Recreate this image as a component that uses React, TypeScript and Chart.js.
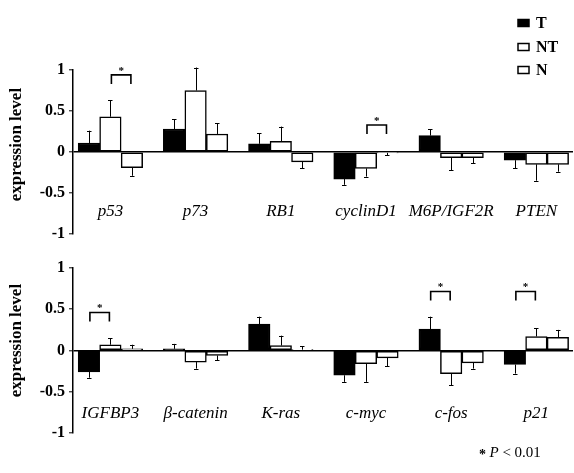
import React, { useEffect, useRef } from "react";
import { Chart, registerables } from "chart.js";

Chart.register(...registerables);

const seriesNames = ["T", "NT", "N"];
const seriesFill = ["#000000", "#ffffff", "#ffffff"];

const genesTop = ["p53", "p73", "RB1", "cyclinD1", "M6P/IGF2R", "PTEN"];
const topT = [0.11, 0.28, 0.1, -0.33, 0.2, -0.1];
const topNT = [0.43, 0.75, 0.13, -0.2, -0.07, -0.15];
const topN = [-0.19, 0.22, -0.12, -0.01, -0.07, -0.15];
const topTErr = [0.15, 0.12, 0.13, 0.07, 0.08, 0.1];
const topNTErr = [0.2, 0.28, 0.18, 0.1, 0.15, 0.2];
const topNErr = [0.1, 0.13, 0.08, 0.03, 0.07, 0.09];

const genesBottom = ["IGFBP3", "β-catenin", "K-ras", "c-myc", "c-fos", "p21"];
const botT = [-0.26, 0.02, 0.32, -0.3, 0.26, -0.17];
const botNT = [0.07, -0.14, 0.06, -0.16, -0.28, 0.17];
const botN = [0.02, -0.06, 0.01, -0.09, -0.15, 0.16];
const botTErr = [0.07, 0.06, 0.09, 0.08, 0.15, 0.11];
const botNTErr = [0.08, 0.08, 0.12, 0.22, 0.14, 0.1];
const botNErr = [0.05, 0.06, 0.04, 0.1, 0.07, 0.09];

// significance brackets: [gene index, series a, series b, bracket level]
const sigTop = [
  [0, 1, 2, 0.94],
  [3, 1, 2, 0.33],
];
const sigBottom = [
  [0, 0, 1, 0.46],
  [4, 0, 1, 0.715],
  [5, 0, 1, 0.715],
];

const yTitle = "expression level";
const pNotePrefix = "* ";
const pNoteP = "P";
const pNoteRest = " < 0.01";

const SERIF = "'Liberation Serif', 'Times New Roman', serif";

const decorPlugin = {
  id: "decor",
  afterDatasetsDraw(chart: any, _args: any, opts: any) {
    const ctx = chart.ctx;
    const ys = chart.scales.y;
    ctx.save();
    ctx.strokeStyle = "#000";
    ctx.fillStyle = "#000";

    // error bars
    chart.data.datasets.forEach((ds: any, di: number) => {
      const meta = chart.getDatasetMeta(di);
      const errs = opts.errors[di];
      meta.data.forEach((bar: any, i: number) => {
        const v = ds.data[i].y;
        const e = errs[i];
        const dir = v >= 0 ? 1 : -1;
        const x = Math.round(bar.x) + 0.5;
        const y0 = ys.getPixelForValue(v);
        const y1 = ys.getPixelForValue(v + dir * e);
        ctx.lineWidth = 1;
        ctx.beginPath();
        ctx.moveTo(x, y0);
        ctx.lineTo(x, y1);
        ctx.moveTo(x - 2.5, Math.round(y1) + 0.5);
        ctx.lineTo(x + 2, Math.round(y1) + 0.5);
        ctx.stroke();
      });
    });

    // significance brackets
    (opts.sig || []).forEach((s: number[]) => {
      const [g, a, b, level] = s;
      const xa = chart.getDatasetMeta(a).data[g].x + 1;
      const xb = chart.getDatasetMeta(b).data[g].x - 1;
      const yt = ys.getPixelForValue(level);
      ctx.lineWidth = 1.6;
      ctx.beginPath();
      ctx.moveTo(xa, yt + 9);
      ctx.lineTo(xa, yt);
      ctx.lineTo(xb, yt);
      ctx.lineTo(xb, yt + 9);
      ctx.stroke();
      ctx.font = `bold 11px ${SERIF}`;
      ctx.textAlign = "center";
      ctx.textBaseline = "middle";
      ctx.fillText("*", (xa + xb) / 2, yt - 4);
    });

    // category labels
    ctx.font = `italic 17px ${SERIF}`;
    ctx.textAlign = "center";
    ctx.textBaseline = "middle";
    const mid = chart.getDatasetMeta(1);
    opts.labels.forEach((lab: string, i: number) => {
      ctx.fillText(lab, mid.data[i].x, ys.getPixelForValue(opts.labelY));
    });

    // y title
    ctx.save();
    ctx.translate(17, ys.getPixelForValue(opts.titleY));
    ctx.rotate(-Math.PI / 2);
    ctx.font = `bold 17px ${SERIF}`;
    ctx.textAlign = "center";
    ctx.textBaseline = "middle";
    ctx.fillText(yTitle, 0, 0);
    ctx.restore();

    // legend
    if (opts.legend) {
      const rows = [23, 47, 70];
      seriesNames.forEach((name, i) => {
        ctx.fillStyle = seriesFill[i];
        ctx.fillRect(518, rows[i] - 3.5, 11, 7);
        ctx.strokeStyle = "#000";
        ctx.lineWidth = 1.5;
        ctx.strokeRect(518, rows[i] - 3.5, 11, 7);
        ctx.fillStyle = "#000";
        ctx.font = `bold 16px ${SERIF}`;
        ctx.textAlign = "left";
        ctx.textBaseline = "middle";
        ctx.fillText(name, 536, rows[i] + 1);
      });
    }

    // p note
    if (opts.note) {
      const y = opts.noteY;
      let x = 479;
      ctx.textAlign = "left";
      ctx.textBaseline = "middle";
      ctx.font = `bold 14px ${SERIF}`;
      ctx.fillText(pNotePrefix, x, y + 2);
      x += ctx.measureText(pNotePrefix).width;
      ctx.font = `italic 15px ${SERIF}`;
      ctx.fillText(pNoteP, x, y);
      x += ctx.measureText(pNoteP).width;
      ctx.font = `15px ${SERIF}`;
      ctx.fillText(pNoteRest, x, y);
    }
    ctx.restore();
  },
};

function makeConfig(
  values: number[][],
  errors: number[][],
  labels: string[],
  sig: number[][],
  padTop: number,
  padBottom: number,
  extra: any
): any {
  return {
    type: "bar",
    data: {
      datasets: values.map((vals, di) => ({
        label: seriesNames[di],
        data: vals.map((v, i) => ({ x: i, y: v })),
        backgroundColor: seriesFill[di],
        borderColor: "#000",
        borderWidth: 1.5,
        borderSkipped: false,
        barThickness: 21.5,
      })),
    },
    options: {
      responsive: false,
      animation: false,
      layout: { padding: { top: padTop, bottom: padBottom, left: 0, right: 1 } },
      plugins: {
        legend: { display: false },
        tooltip: { enabled: false },
        decor: { errors, sig, labels, ...extra },
      },
      scales: {
        x: { type: "linear", display: false, offset: false, min: -0.439, max: 5.43 },
        y: {
          min: -1,
          max: 1,
          ticks: {
            stepSize: 0.5,
            callback: (v: number) => String(v),
            color: "#000",
            font: { family: SERIF, size: 16, weight: "bold" },
            padding: 4,
          },
          grid: {
            color: (c: any) => (c.tick && c.tick.value === 0 ? "#000" : "rgba(0,0,0,0)"),
            lineWidth: 1.6,
            drawTicks: true,
            tickLength: 4,
            tickColor: "#000",
            tickWidth: 1,
          },
          border: { display: true, color: "#000", width: 1.5 },
          afterFit: (s: any) => {
            s.width = 73;
          },
        },
      },
    },
    plugins: [decorPlugin],
  };
}

export default function App() {
  const topRef = useRef<HTMLCanvasElement>(null);
  const botRef = useRef<HTMLCanvasElement>(null);

  useEffect(() => {
    const top = new Chart(
      topRef.current as HTMLCanvasElement,
      makeConfig(
        [topT, topNT, topN],
        [topTErr, topNTErr, topNErr],
        genesTop,
        sigTop,
        70,
        16,
        { labelY: -0.72, titleY: 0.09, legend: true, note: false }
      )
    );
    const bot = new Chart(
      botRef.current as HTMLCanvasElement,
      makeConfig(
        [botT, botNT, botN],
        [botTErr, botNTErr, botNErr],
        genesBottom,
        sigBottom,
        18,
        40,
        { labelY: -0.77, titleY: 0.12, legend: false, note: true, noteY: 203 }
      )
    );
    return () => {
      top.destroy();
      bot.destroy();
    };
  }, []);

  return (
    <div
      style={{
        position: "fixed",
        left: 0,
        top: 0,
        width: 574,
        height: 473,
        background: "#fff",
      }}
    >
      <canvas
        ref={topRef}
        width={574}
        height={250}
        style={{ position: "absolute", left: 0, top: 0 }}
      />
      <canvas
        ref={botRef}
        width={574}
        height={223}
        style={{ position: "absolute", left: 0, top: 250 }}
      />
    </div>
  );
}
